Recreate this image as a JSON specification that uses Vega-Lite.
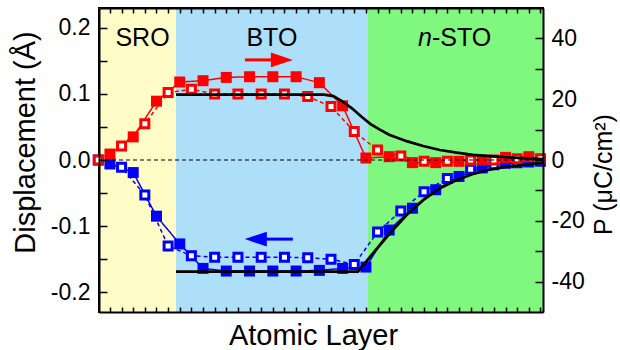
{
  "$schema": "https://vega.github.io/schema/vega-lite/v6.json",
  "width": 444,
  "height": 304,
  "autosize": {"type": "none"},
  "padding": {"left": 99, "top": 8, "right": 77, "bottom": 38},
  "config": {
    "font": "Liberation Sans",
    "view": {"stroke": "black", "strokeWidth": 2},
    "axis": {
      "domainColor": "black", "domainWidth": 2, "tickColor": "black", "tickWidth": 1.5,
      "labelColor": "black", "titleColor": "black", "labelFont": "Liberation Sans",
      "titleFont": "Liberation Sans", "labelFontSize": 23, "titleFontWeight": "normal",
      "grid": false, "labelOverlap": false, "labelFlush": false
    }
  },
  "datasets": {
    "regions": [
      {"region": "SRO", "n": -0.47, "n2": 2.84},
      {"region": "BTO", "n": 2.84, "n2": 11.09},
      {"region": "STO", "n": 11.09, "n2": 18.61}
    ],
    "pts": [
      {"s": "red", "k": "filled", "n": 0, "d": 0.009},
      {"s": "red", "k": "filled", "n": 1, "d": 0.035},
      {"s": "red", "k": "filled", "n": 2, "d": 0.089},
      {"s": "red", "k": "filled", "n": 3, "d": 0.118},
      {"s": "red", "k": "filled", "n": 4, "d": 0.120},
      {"s": "red", "k": "filled", "n": 5, "d": 0.125},
      {"s": "red", "k": "filled", "n": 6, "d": 0.126},
      {"s": "red", "k": "filled", "n": 7, "d": 0.126},
      {"s": "red", "k": "filled", "n": 8, "d": 0.126},
      {"s": "red", "k": "filled", "n": 9, "d": 0.117},
      {"s": "red", "k": "filled", "n": 10, "d": 0.082},
      {"s": "red", "k": "filled", "n": 11, "d": 0.003},
      {"s": "red", "k": "filled", "n": 12, "d": 0.005},
      {"s": "red", "k": "filled", "n": 13, "d": -0.004},
      {"s": "red", "k": "filled", "n": 14, "d": -0.004},
      {"s": "red", "k": "filled", "n": 15, "d": -0.002},
      {"s": "red", "k": "filled", "n": 16, "d": 0.0},
      {"s": "red", "k": "filled", "n": 17, "d": 0.004},
      {"s": "red", "k": "filled", "n": 18, "d": 0.005},
      {"s": "red", "k": "open", "n": -0.5, "d": 0.0},
      {"s": "red", "k": "open", "n": 0.5, "d": 0.021},
      {"s": "red", "k": "open", "n": 1.5, "d": 0.055},
      {"s": "red", "k": "open", "n": 2.5, "d": 0.102},
      {"s": "red", "k": "open", "n": 3.5, "d": 0.107},
      {"s": "red", "k": "open", "n": 4.5, "d": 0.100},
      {"s": "red", "k": "open", "n": 5.5, "d": 0.100},
      {"s": "red", "k": "open", "n": 6.5, "d": 0.100},
      {"s": "red", "k": "open", "n": 7.5, "d": 0.100},
      {"s": "red", "k": "open", "n": 8.5, "d": 0.096},
      {"s": "red", "k": "open", "n": 9.5, "d": 0.081},
      {"s": "red", "k": "open", "n": 10.5, "d": 0.043},
      {"s": "red", "k": "open", "n": 11.5, "d": 0.015},
      {"s": "red", "k": "open", "n": 12.5, "d": 0.006},
      {"s": "red", "k": "open", "n": 13.5, "d": -0.002},
      {"s": "red", "k": "open", "n": 14.5, "d": -0.002},
      {"s": "red", "k": "open", "n": 15.5, "d": 0.0},
      {"s": "red", "k": "open", "n": 16.5, "d": 0.0},
      {"s": "red", "k": "open", "n": 17.5, "d": 0.002},
      {"s": "red", "k": "open", "n": 18.5, "d": 0.002},
      {"s": "blue", "k": "filled", "n": 0, "d": -0.006},
      {"s": "blue", "k": "filled", "n": 1, "d": -0.019},
      {"s": "blue", "k": "filled", "n": 2, "d": -0.085},
      {"s": "blue", "k": "filled", "n": 3, "d": -0.127},
      {"s": "blue", "k": "filled", "n": 4, "d": -0.164},
      {"s": "blue", "k": "filled", "n": 5, "d": -0.168},
      {"s": "blue", "k": "filled", "n": 6, "d": -0.168},
      {"s": "blue", "k": "filled", "n": 7, "d": -0.168},
      {"s": "blue", "k": "filled", "n": 8, "d": -0.168},
      {"s": "blue", "k": "filled", "n": 9, "d": -0.167},
      {"s": "blue", "k": "filled", "n": 10, "d": -0.164},
      {"s": "blue", "k": "filled", "n": 11, "d": -0.162},
      {"s": "blue", "k": "filled", "n": 12, "d": -0.106},
      {"s": "blue", "k": "filled", "n": 13, "d": -0.073},
      {"s": "blue", "k": "filled", "n": 14, "d": -0.045},
      {"s": "blue", "k": "filled", "n": 15, "d": -0.025},
      {"s": "blue", "k": "filled", "n": 16, "d": -0.012},
      {"s": "blue", "k": "filled", "n": 17, "d": -0.005},
      {"s": "blue", "k": "filled", "n": 18, "d": -0.003},
      {"s": "blue", "k": "open", "n": -0.5, "d": 0.0},
      {"s": "blue", "k": "open", "n": 0.5, "d": -0.011},
      {"s": "blue", "k": "open", "n": 1.5, "d": -0.053},
      {"s": "blue", "k": "open", "n": 2.5, "d": -0.130},
      {"s": "blue", "k": "open", "n": 3.5, "d": -0.145},
      {"s": "blue", "k": "open", "n": 4.5, "d": -0.147},
      {"s": "blue", "k": "open", "n": 5.5, "d": -0.147},
      {"s": "blue", "k": "open", "n": 6.5, "d": -0.147},
      {"s": "blue", "k": "open", "n": 7.5, "d": -0.147},
      {"s": "blue", "k": "open", "n": 8.5, "d": -0.148},
      {"s": "blue", "k": "open", "n": 9.5, "d": -0.150},
      {"s": "blue", "k": "open", "n": 10.5, "d": -0.158},
      {"s": "blue", "k": "open", "n": 11.5, "d": -0.109},
      {"s": "blue", "k": "open", "n": 12.5, "d": -0.077},
      {"s": "blue", "k": "open", "n": 13.5, "d": -0.048},
      {"s": "blue", "k": "open", "n": 14.5, "d": -0.028},
      {"s": "blue", "k": "open", "n": 15.5, "d": -0.014},
      {"s": "blue", "k": "open", "n": 16.5, "d": -0.007},
      {"s": "blue", "k": "open", "n": 17.5, "d": -0.004},
      {"s": "blue", "k": "open", "n": 18.5, "d": -0.002}
    ],
    "model": [
      {"c": "up", "n": 2.84, "P": 21.5}, {"c": "up", "n": 9.2, "P": 21.5}, {"c": "up", "n": 9.6, "P": 21.0},
      {"c": "up", "n": 10.0, "P": 19.2}, {"c": "up", "n": 10.4, "P": 17.0}, {"c": "up", "n": 10.8, "P": 14.3},
      {"c": "up", "n": 11.2, "P": 11.8}, {"c": "up", "n": 11.6, "P": 10.0}, {"c": "up", "n": 12.0, "P": 8.3},
      {"c": "up", "n": 12.75, "P": 6.2}, {"c": "up", "n": 13.46, "P": 4.6}, {"c": "up", "n": 14.18, "P": 3.3},
      {"c": "up", "n": 14.9, "P": 2.4}, {"c": "up", "n": 15.6, "P": 1.7}, {"c": "up", "n": 16.3, "P": 1.3},
      {"c": "up", "n": 17.05, "P": 0.9}, {"c": "up", "n": 18.61, "P": 0.3},
      {"c": "down", "n": 2.84, "P": -36.7}, {"c": "down", "n": 10.66, "P": -36.7}, {"c": "down", "n": 11.3, "P": -30.7},
      {"c": "down", "n": 12.03, "P": -24.1}, {"c": "down", "n": 12.75, "P": -18.1}, {"c": "down", "n": 13.46, "P": -13.2},
      {"c": "down", "n": 14.18, "P": -9.3}, {"c": "down", "n": 14.9, "P": -6.6}, {"c": "down", "n": 15.6, "P": -4.6},
      {"c": "down", "n": 16.3, "P": -3.2}, {"c": "down", "n": 17.05, "P": -2.2}, {"c": "down", "n": 18.61, "P": -0.85}
    ]
  },
  "layer": [
    {
      "data": {"name": "regions"},
      "mark": {"type": "rect"},
      "encoding": {
        "x": {"field": "n", "type": "quantitative", "scale": {"domain": [-0.47, 18.61], "nice": false, "zero": false},
          "axis": {"orient": "bottom", "zindex": 1, "values": [0,0.5,1,1.5,2,2.5,3,3.5,4,4.5,5,5.5,6,6.5,7,7.5,8,8.5,9,9.5,10,10.5,11,11.5,12,12.5,13,13.5,14,14.5,15,15.5,16,16.5,17,17.5,18,18.5],
            "labels": false, "tickSize": -5, "title": "Atomic Layer", "titleFontSize": 29,
            "titleX": 214, "titleY": 32, "titleBaseline": "alphabetic", "titleAlign": "center"}},
        "x2": {"field": "n2"},
        "color": {"field": "region", "type": "nominal", "scale": {"domain": ["SRO", "BTO", "STO"], "range": ["#FFFCC8", "#AEDFF9", "#80F77E"]}, "legend": null}
      }
    },
    {
      "data": {"name": "pts"},
      "transform": [{"filter": "datum.s == 'blue'"}],
      "mark": {"type": "line", "color": "#0000FF", "strokeWidth": 1.5, "clip": false},
      "encoding": {
        "x": {"field": "n", "type": "quantitative", "scale": {"domain": [-0.47, 18.61], "nice": false, "zero": false}, "axis": null},
        "y": {"field": "d", "type": "quantitative", "scale": {"domain": [-0.23, 0.23], "nice": false, "zero": false},
          "axis": {"orient": "left", "zindex": 1, "title": "Displacement (Å)", "titleFontSize": 29, "titleAngle": 270,
            "titleX": -64.5, "titleY": 134, "titleAlign": "center", "titleBaseline": "alphabetic",
            "values": [-0.2,-0.15,-0.1,-0.05,0,0.05,0.1,0.15,0.2],
            "labelExpr": "abs(datum.value*10 - round(datum.value*10)) < 0.001 ? replace(format(datum.value, '.1f'), '\u2212', '-') : ''",
            "tickSize": -8, "labelPadding": 17,
            "encode": {"ticks": {"update": {"x2": {"signal": "abs(datum.value*10 - round(datum.value*10)) < 0.001 ? 8 : 5"}}}}}},
        "detail": {"field": "k"},
        "strokeDash": {"field": "k", "type": "nominal", "scale": {"domain": ["filled", "open"], "range": [[1, 0], [4, 3]]}, "legend": null}
      }
    },
    {
      "data": {"name": "pts"},
      "transform": [{"filter": "datum.s == 'blue' && datum.k == 'filled'"}],
      "mark": {"type": "point", "shape": "square", "filled": true, "color": "#0000FF", "size": 121, "opacity": 1, "clip": false},
      "encoding": {
        "x": {"field": "n", "type": "quantitative", "scale": {"domain": [-0.47, 18.61], "nice": false, "zero": false}, "axis": null},
        "y": {"field": "d", "type": "quantitative", "scale": {"domain": [-0.23, 0.23], "nice": false, "zero": false}, "axis": null}
      }
    },
    {
      "data": {"name": "pts"},
      "transform": [{"filter": "datum.s == 'blue' && datum.k == 'open'"}],
      "mark": {"type": "point", "shape": "square", "filled": false, "fill": "white", "fillOpacity": 1, "stroke": "#0000FF", "strokeWidth": 3, "size": 64, "opacity": 1, "clip": false},
      "encoding": {
        "x": {"field": "n", "type": "quantitative", "scale": {"domain": [-0.47, 18.61], "nice": false, "zero": false}, "axis": null},
        "y": {"field": "d", "type": "quantitative", "scale": {"domain": [-0.23, 0.23], "nice": false, "zero": false}, "axis": null}
      }
    },
    {
      "data": {"name": "pts"},
      "transform": [{"filter": "datum.s == 'red'"}],
      "mark": {"type": "line", "color": "#FF0000", "strokeWidth": 1.5, "clip": false},
      "encoding": {
        "x": {"field": "n", "type": "quantitative", "scale": {"domain": [-0.47, 18.61], "nice": false, "zero": false}, "axis": null},
        "y": {"field": "d", "type": "quantitative", "scale": {"domain": [-0.23, 0.23], "nice": false, "zero": false}, "axis": null},
        "detail": {"field": "k"},
        "strokeDash": {"field": "k", "type": "nominal", "scale": {"domain": ["filled", "open"], "range": [[1, 0], [4, 3]]}, "legend": null}
      }
    },
    {
      "data": {"name": "pts"},
      "transform": [{"filter": "datum.s == 'red' && datum.k == 'filled'"}],
      "mark": {"type": "point", "shape": "square", "filled": true, "color": "#FF0000", "size": 121, "opacity": 1, "clip": false},
      "encoding": {
        "x": {"field": "n", "type": "quantitative", "scale": {"domain": [-0.47, 18.61], "nice": false, "zero": false}, "axis": null},
        "y": {"field": "d", "type": "quantitative", "scale": {"domain": [-0.23, 0.23], "nice": false, "zero": false}, "axis": null}
      }
    },
    {
      "data": {"name": "pts"},
      "transform": [{"filter": "datum.s == 'red' && datum.k == 'open'"}],
      "mark": {"type": "point", "shape": "square", "filled": false, "fill": "white", "fillOpacity": 1, "stroke": "#FF0000", "strokeWidth": 3, "size": 64, "opacity": 1, "clip": false},
      "encoding": {
        "x": {"field": "n", "type": "quantitative", "scale": {"domain": [-0.47, 18.61], "nice": false, "zero": false}, "axis": null},
        "y": {"field": "d", "type": "quantitative", "scale": {"domain": [-0.23, 0.23], "nice": false, "zero": false}, "axis": null}
      }
    },
    {
      "data": {"values": [{"v": 0}]},
      "mark": {"type": "rule", "color": "black", "strokeWidth": 1.2, "strokeDash": [4, 3]},
      "encoding": {
        "y": {"field": "v", "type": "quantitative", "scale": {"domain": [-0.23, 0.23], "nice": false, "zero": false}, "axis": null}
      }
    },
    {
      "data": {"values": [{"dir": "right", "n": 5.8, "n2": 7.0, "d": 0.1515}]},
      "mark": {"type": "rule", "color": "#FF0000", "strokeWidth": 3},
      "encoding": {
        "x": {"field": "n", "type": "quantitative", "scale": {"domain": [-0.47, 18.61], "nice": false, "zero": false}, "axis": null},
        "x2": {"field": "n2"},
        "y": {"field": "d", "type": "quantitative", "scale": {"domain": [-0.23, 0.23], "nice": false, "zero": false}, "axis": null}
      }
    },
    {
      "data": {"values": [{"dir": "right", "n": 7.39, "d": 0.1515}]},
      "mark": {"type": "point", "shape": "M1,0L-1,-0.68L-1,0.68Z", "filled": true, "color": "#FF0000", "size": 484, "opacity": 1},
      "encoding": {
        "x": {"field": "n", "type": "quantitative", "scale": {"domain": [-0.47, 18.61], "nice": false, "zero": false}, "axis": null},
        "y": {"field": "d", "type": "quantitative", "scale": {"domain": [-0.23, 0.23], "nice": false, "zero": false}, "axis": null}
      }
    },
    {
      "data": {"values": [{"dir": "left", "n": 6.6, "n2": 7.86, "d": -0.1197}]},
      "mark": {"type": "rule", "color": "#0000FF", "strokeWidth": 3},
      "encoding": {
        "x": {"field": "n", "type": "quantitative", "scale": {"domain": [-0.47, 18.61], "nice": false, "zero": false}, "axis": null},
        "x2": {"field": "n2"},
        "y": {"field": "d", "type": "quantitative", "scale": {"domain": [-0.23, 0.23], "nice": false, "zero": false}, "axis": null}
      }
    },
    {
      "data": {"values": [{"dir": "left", "n": 6.27, "d": -0.1197}]},
      "mark": {"type": "point", "shape": "M-1,0L1,-0.68L1,0.68Z", "filled": true, "color": "#0000FF", "size": 484, "opacity": 1},
      "encoding": {
        "x": {"field": "n", "type": "quantitative", "scale": {"domain": [-0.47, 18.61], "nice": false, "zero": false}, "axis": null},
        "y": {"field": "d", "type": "quantitative", "scale": {"domain": [-0.23, 0.23], "nice": false, "zero": false}, "axis": null}
      }
    },
    {
      "data": {"values": [
        {"t": "SRO", "n": 1.40, "d": 0.173},
        {"t": "BTO", "n": 6.96, "d": 0.173}
      ]},
      "mark": {"type": "text", "fontSize": 25, "font": "Liberation Sans", "color": "black", "baseline": "alphabetic", "align": "center"},
      "encoding": {
        "x": {"field": "n", "type": "quantitative", "scale": {"domain": [-0.47, 18.61], "nice": false, "zero": false}, "axis": null},
        "y": {"field": "d", "type": "quantitative", "scale": {"domain": [-0.23, 0.23], "nice": false, "zero": false}, "axis": null},
        "text": {"field": "t"}
      }
    },
    {
      "data": {"values": [{"t": "-STO", "n": 13.84, "d": 0.173}]},
      "mark": {"type": "text", "fontSize": 25, "font": "Liberation Sans", "color": "black", "baseline": "alphabetic", "align": "left"},
      "encoding": {
        "x": {"field": "n", "type": "quantitative", "scale": {"domain": [-0.47, 18.61], "nice": false, "zero": false}, "axis": null},
        "y": {"field": "d", "type": "quantitative", "scale": {"domain": [-0.23, 0.23], "nice": false, "zero": false}, "axis": null},
        "text": {"field": "t"}
      }
    },
    {
      "data": {"values": [{"t": "n", "n": 13.84, "d": 0.173}]},
      "mark": {"type": "text", "fontSize": 25, "font": "Liberation Sans", "fontStyle": "italic", "color": "black", "baseline": "alphabetic", "align": "right"},
      "encoding": {
        "x": {"field": "n", "type": "quantitative", "scale": {"domain": [-0.47, 18.61], "nice": false, "zero": false}, "axis": null},
        "y": {"field": "d", "type": "quantitative", "scale": {"domain": [-0.23, 0.23], "nice": false, "zero": false}, "axis": null},
        "text": {"field": "t"}
      }
    },
    {
      "data": {"name": "model"},
      "mark": {"type": "line", "color": "black", "strokeWidth": 2.7, "clip": false},
      "encoding": {
        "x": {"field": "n", "type": "quantitative", "scale": {"domain": [-0.47, 18.61], "nice": false, "zero": false},
          "axis": {"orient": "top", "zindex": 1, "values": [0,0.5,1,1.5,2,2.5,3,3.5,4,4.5,5,5.5,6,6.5,7,7.5,8,8.5,9,9.5,10,10.5,11,11.5,12,12.5,13,13.5,14,14.5,15,15.5,16,16.5,17,17.5,18,18.5],
            "labels": false, "tickSize": -5, "title": null}},
        "y": {"field": "P", "type": "quantitative", "scale": {"domain": [-50, 50], "nice": false, "zero": false},
          "axis": {"orient": "right", "zindex": 1, "title": "P (μC/cm²)", "titleFontSize": 25, "titleAngle": 270,
            "titleX": 68, "titleY": 166, "titleAlign": "center", "titleBaseline": "alphabetic",
            "values": [-40,-30,-20,-10,0,10,20,30,40],
            "labelExpr": "datum.value % 20 == 0 ? '' + datum.value : ''",
            "tickSize": -8, "labelPadding": 16,
            "encode": {"ticks": {"update": {"x2": {"signal": "datum.value % 20 == 0 ? -8 : -5"}}}}}},
        "detail": {"field": "c"}
      }
    }
  ],
  "resolve": {"scale": {"y": "independent"}, "axis": {"x": "independent", "y": "independent"}}
}
